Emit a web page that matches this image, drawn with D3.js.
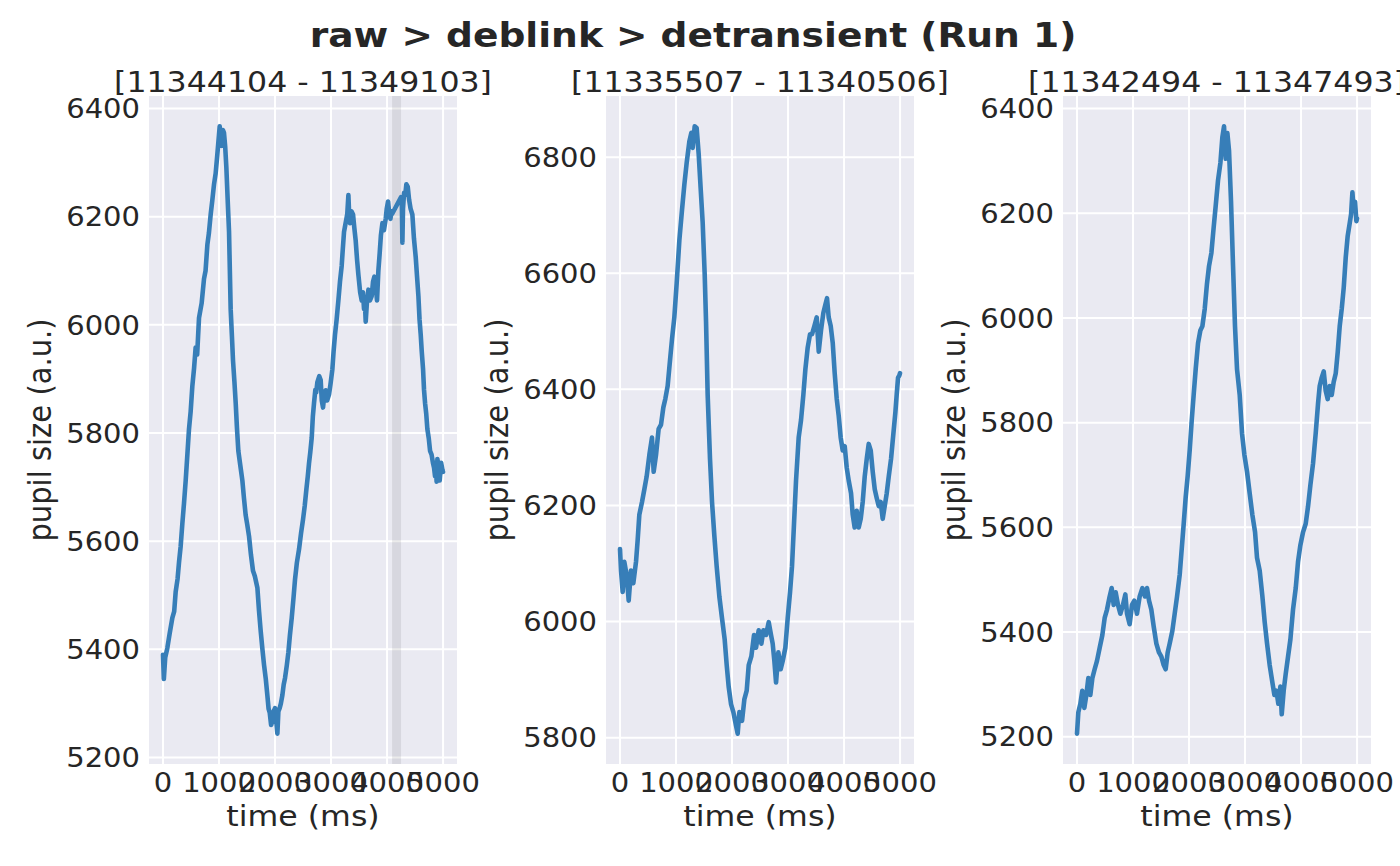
<!DOCTYPE html>
<html>
<head>
<meta charset="utf-8">
<script src="https://cdn.jsdelivr.net/npm/d3@7"></script>
<style>
  body { margin: 0; background: #fff; }
  text { font-family: "DejaVu Sans", sans-serif; fill: #262626; }
</style>
</head>
<body>
<script>
// chart values
const figTitle = "raw > deblink > detransient (Run 1)";
const panelTitles = ["[11344104 - 11349103]", "[11335507 - 11340506]", "[11342494 - 11347493]"];
const xTicks = [0, 1000, 2000, 3000, 4000, 5000];
const yTicks1 = [5200, 5400, 5600, 5800, 6000, 6200, 6400];
const yTicks2 = [5800, 6000, 6200, 6400, 6600, 6800];
const yTicks3 = [5200, 5400, 5600, 5800, 6000, 6200, 6400];
const blinks1 = [[4090, 4250]];

const t1 = [0,15,40,77,120,167,200,226,260,286,315,345,375,405,435,464,494,524,555,583,610,643,690,732,760,792,820,851,880,911,940,970,1012,1030,1048,1070,1089,1110,1131,1155,1179,1208,1230,1250,1275,1298,1320,1345,1380,1417,1445,1476,1505,1536,1570,1607,1640,1685,1715,1744,1775,1804,1835,1863,1885,1905,1930,1952,1975,2000,2020,2042,2060,2083,2105,2131,2155,2179,2210,2238,2265,2298,2330,2357,2390,2429,2465,2500,2530,2560,2585,2607,2630,2655,2675,2696,2720,2735,2756,2790,2815,2835,2857,2880,2905,2930,2964,2990,3024,3045,3071,3100,3131,3160,3190,3210,3232,3255,3274,3290,3310,3325,3339,3365,3393,3415,3440,3465,3488,3520,3548,3570,3589,3605,3619,3640,3667,3695,3726,3750,3774,3800,3821,3845,3869,3890,3917,3945,3976,3995,4018,4040,4060,4080,4090,4250,4265,4274,4285,4304,4325,4345,4370,4393,4420,4452,4480,4512,4535,4560,4580,4601,4620,4643,4660,4679,4700,4720,4745,4768,4795,4821,4840,4857,4870,4885,4899,4920,4940,4965,4988,4999];
const v1 = [5390,5345,5385,5402,5430,5458,5470,5506,5530,5561,5590,5632,5670,5712,5760,5807,5840,5887,5920,5958,5945,6013,6040,6085,6100,6148,6170,6204,6230,6260,6280,6315,6367,6350,6331,6360,6355,6330,6291,6230,6172,6029,5980,5934,5895,5855,5810,5767,5740,5712,5680,5648,5630,5609,5575,5545,5535,5514,5470,5434,5400,5371,5345,5315,5290,5283,5260,5267,5285,5291,5270,5244,5285,5291,5300,5315,5335,5347,5370,5394,5425,5458,5495,5529,5560,5585,5615,5640,5665,5696,5720,5744,5765,5791,5830,5855,5880,5875,5894,5905,5898,5860,5847,5870,5879,5860,5871,5890,5918,5950,5982,6010,6045,6080,6109,6140,6172,6185,6196,6205,6240,6200,6188,6210,6204,6180,6156,6120,6093,6060,6045,6060,6029,6040,6006,6040,6065,6045,6053,6080,6089,6070,6045,6100,6133,6165,6188,6175,6196,6215,6228,6205,6196,6210,6205,6236,6220,6152,6215,6244,6240,6260,6255,6232,6215,6204,6160,6125,6090,6053,6010,5982,5950,5918,5880,5855,5835,5807,5790,5767,5760,5744,5735,5720,5745,5710,5752,5735,5712,5745,5732,5728];

const t2 = [0,18,48,77,119,155,196,238,286,315,345,393,435,476,524,571,601,643,690,732,774,810,851,893,929,970,1012,1060,1107,1149,1190,1238,1274,1298,1333,1369,1405,1440,1476,1512,1536,1565,1607,1643,1685,1726,1774,1821,1869,1905,1940,1982,2024,2071,2101,2131,2179,2220,2262,2298,2345,2393,2429,2476,2524,2560,2607,2655,2696,2726,2756,2786,2827,2869,2905,2952,2994,3036,3071,3107,3143,3190,3232,3274,3310,3351,3393,3429,3470,3512,3548,3589,3631,3667,3696,3726,3762,3798,3833,3869,3905,3940,3976,4012,4048,4083,4125,4155,4190,4226,4262,4298,4333,4369,4405,4440,4476,4512,4548,4583,4619,4655,4690,4726,4762,4798,4839,4881,4917,4940,4964,4988,4999];
const v2 = [6125,6088,6051,6103,6080,6036,6088,6066,6103,6140,6184,6206,6228,6250,6287,6317,6258,6287,6332,6339,6369,6384,6406,6450,6487,6524,6583,6657,6709,6753,6790,6827,6842,6816,6853,6850,6805,6746,6687,6598,6517,6391,6280,6206,6147,6095,6043,6006,5969,5925,5888,5858,5844,5821,5807,5844,5829,5866,5881,5925,5940,5977,5955,5985,5962,5985,5977,5999,5977,5962,5932,5895,5947,5918,5932,5955,6006,6051,6095,6169,6243,6317,6347,6391,6435,6472,6495,6495,6509,6524,6465,6502,6532,6546,6557,6524,6509,6480,6428,6384,6354,6317,6295,6302,6265,6243,6221,6184,6162,6191,6162,6177,6206,6250,6280,6306,6295,6258,6228,6213,6199,6206,6177,6199,6221,6250,6280,6324,6361,6391,6420,6424,6428];

const t3 = [0,24,60,95,131,167,202,238,274,315,357,405,452,494,536,583,619,655,690,732,774,821,863,893,940,982,1024,1071,1119,1167,1214,1250,1286,1327,1369,1417,1464,1506,1548,1583,1619,1655,1702,1744,1786,1833,1869,1905,1940,1976,2012,2048,2083,2119,2161,2202,2238,2280,2321,2357,2399,2440,2476,2518,2560,2595,2625,2655,2685,2714,2750,2786,2821,2857,2905,2946,2988,3036,3083,3131,3179,3214,3262,3310,3351,3393,3440,3488,3524,3560,3595,3631,3655,3690,3726,3768,3810,3857,3905,3946,3988,4036,4083,4125,4167,4214,4262,4304,4333,4369,4405,4440,4476,4512,4548,4583,4619,4655,4690,4726,4762,4798,4833,4869,4893,4917,4940,4964,4988,4999];
const v3 = [5206,5247,5263,5288,5255,5280,5312,5280,5312,5329,5345,5370,5394,5427,5443,5468,5484,5452,5476,5452,5435,5452,5472,5435,5415,5452,5460,5435,5468,5484,5468,5484,5460,5443,5411,5378,5361,5353,5337,5329,5361,5378,5402,5435,5468,5509,5558,5607,5657,5698,5747,5804,5853,5902,5952,5976,5984,6017,6066,6099,6124,6173,6214,6263,6296,6345,6366,6304,6353,6320,6222,6099,5984,5902,5853,5780,5739,5706,5665,5624,5591,5542,5517,5468,5419,5378,5337,5304,5280,5288,5263,5296,5243,5288,5320,5353,5386,5443,5484,5534,5566,5591,5607,5640,5681,5722,5780,5837,5870,5886,5898,5861,5845,5870,5853,5878,5894,5935,5984,6017,6058,6116,6157,6181,6198,6240,6206,6222,6185,6190];

const panels = [
  { title: panelTitles[0], t: t1, v: v1, yTicks: yTicks1, blinks: blinks1 },
  { title: panelTitles[1], t: t2, v: v2, yTicks: yTicks2, blinks: [] },
  { title: panelTitles[2], t: t3, v: v3, yTicks: yTicks3, blinks: [] }
];

const width = 1400, height = 866;
const SX = 1.09;            // the reference is a bit wider than tall, text included
const plotTop = 96, plotBottom = 764, plotW = 308, firstLeft = 149, step = 457;
const tickSize = 26.6, labelSize = 29, supSize = 34.5;
const lineColor = "#377eb8";

const svg = d3.select("body").append("svg")
    .attr("width", width).attr("height", height);

function label(g, x, y, str, size, anchor, rot, weight) {
  g.append("text")
      .attr("transform", `translate(${x},${y}) scale(${SX},1)` + (rot ? " rotate(-90)" : ""))
      .attr("text-anchor", anchor)
      .attr("font-size", size)
      .attr("font-weight", weight || "normal")
      .text(str);
}

label(svg, 693, 47, figTitle, supSize, "middle", false, "bold");

// matplotlib-like 5% margins
function padded(ext) {
  const m = (ext[1] - ext[0]) * 0.05;
  return [ext[0] - m, ext[1] + m];
}

panels.forEach((p, i) => {
  const left = firstLeft + i * step;
  const x = d3.scaleLinear().domain(padded(d3.extent(p.t))).range([left, left + plotW]);
  const y = d3.scaleLinear().domain(padded(d3.extent(p.v))).range([plotBottom, plotTop]);
  const g = svg.append("g");

  g.append("rect")
      .attr("x", left).attr("y", plotTop)
      .attr("width", plotW).attr("height", plotBottom - plotTop)
      .attr("fill", "#eaeaf2");

  // grid
  g.selectAll(".gx").data(xTicks).join("line")
      .attr("class", "gx")
      .attr("x1", d => x(d)).attr("x2", d => x(d))
      .attr("y1", plotTop).attr("y2", plotBottom)
      .attr("stroke", "#fff").attr("stroke-width", 2);
  g.selectAll(".gy").data(p.yTicks).join("line")
      .attr("class", "gy")
      .attr("x1", left).attr("x2", left + plotW)
      .attr("y1", d => y(d)).attr("y2", d => y(d))
      .attr("stroke", "#fff").attr("stroke-width", 2);

  // blink spans
  g.selectAll(".blink").data(p.blinks).join("rect")
      .attr("class", "blink")
      .attr("x", d => x(d[0])).attr("width", d => x(d[1]) - x(d[0]))
      .attr("y", plotTop).attr("height", plotBottom - plotTop)
      .attr("fill", "#000").attr("fill-opacity", 0.08);

  const line = d3.line()
      .x((d, k) => x(p.t[k]))
      .y(d => y(d));
  g.append("path")
      .attr("d", line(p.v))
      .attr("fill", "none")
      .attr("stroke", lineColor)
      .attr("stroke-width", 4.6)
      .attr("stroke-linejoin", "round")
      .attr("stroke-linecap", "round");

  // tick labels
  xTicks.forEach(d => label(g, x(d), 792, d3.format("d")(d), tickSize, "middle"));
  p.yTicks.forEach(d => label(g, left - 9, y(d) + tickSize * 0.365, d3.format("d")(d), tickSize, "end"));

  label(g, left + plotW / 2, 826, "time (ms)", labelSize, "middle");
  label(g, left - 98, (plotTop + plotBottom) / 2, "pupil size (a.u.)", labelSize, "middle", true);
  label(g, left + plotW / 2, 92, p.title, labelSize, "middle");
});
</script>
</body>
</html>
